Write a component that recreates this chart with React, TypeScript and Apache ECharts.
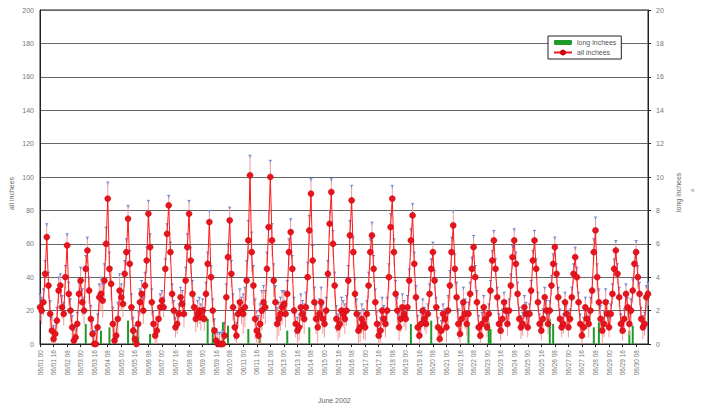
import React, { useEffect, useRef } from "react";
import * as echarts from "echarts";

// 2-hourly readings (hours 00,02,...,22) for each day of June 2002, "all inchees"
const day01 = [22, 20, 25, 42, 64, 35, 18, 8, 3, 6, 14, 32];
const day02 = [35, 22, 18, 40, 59, 30, 20, 10, 2, 4, 12, 30];
const day03 = [38, 25, 20, 45, 56, 32, 15, 6, 0, 0, 10, 28];
const day04 = [30, 26, 38, 60, 87, 45, 36, 12, 2, 5, 15, 32];
const day05 = [28, 24, 42, 55, 75, 48, 22, 8, 3, 0, 12, 25];
const day06 = [30, 20, 35, 50, 78, 58, 25, 12, 5, 8, 15, 22];
const day07 = [26, 22, 45, 66, 83, 55, 30, 20, 10, 12, 18, 28];
const day08 = [24, 18, 38, 58, 78, 50, 30, 22, 15, 18, 20, 16];
const day09 = [20, 15, 30, 48, 73, 40, 20, 8, 2, 0, 0, 0];
const day10 = [0, 5, 28, 52, 74, 42, 22, 10, 5, 18, 25, 20];
const day11 = [18, 22, 38, 62, 101, 55, 35, 15, 8, 5, 12, 20];
const day12 = [25, 22, 45, 70, 100, 62, 38, 25, 12, 15, 18, 22];
const day13 = [24, 18, 30, 55, 67, 45, 20, 12, 8, 10, 22, 18];
const day14 = [15, 22, 40, 68, 90, 50, 25, 15, 10, 18, 25, 15];
const day15 = [12, 20, 42, 72, 91, 60, 35, 15, 10, 12, 20, 18];
const day16 = [15, 20, 38, 65, 86, 55, 30, 18, 8, 10, 15, 12];
const day17 = [10, 18, 35, 55, 65, 45, 25, 12, 5, 8, 20, 15];
const day18 = [12, 20, 40, 70, 87, 55, 30, 20, 10, 15, 22, 18];
const day19 = [15, 22, 38, 62, 77, 48, 28, 10, 5, 12, 20, 15];
const day20 = [12, 18, 30, 45, 55, 38, 22, 10, 3, 8, 18, 15];
const day21 = [10, 20, 35, 55, 71, 45, 28, 12, 6, 15, 25, 18];
const day22 = [12, 18, 30, 45, 58, 40, 25, 10, 5, 12, 22, 15];
const day23 = [10, 18, 32, 50, 62, 45, 28, 12, 8, 15, 25, 20];
const day24 = [12, 20, 35, 52, 62, 48, 30, 15, 10, 12, 22, 18];
const day25 = [10, 18, 32, 50, 62, 45, 25, 12, 8, 15, 28, 20];
const day26 = [12, 20, 35, 48, 58, 42, 28, 15, 10, 12, 25, 18];
const day27 = [10, 15, 28, 42, 52, 40, 25, 12, 5, 10, 22, 15];
const day28 = [12, 20, 32, 55, 68, 40, 25, 15, 8, 12, 25, 18];
const day29 = [10, 18, 30, 45, 56, 42, 28, 12, 8, 15, 30, 22];
const day30 = [12, 20, 32, 48, 55, 40, 30, 15, 10, 12, 28, 30];

const allDays = [
  day01, day02, day03, day04, day05, day06, day07, day08, day09, day10,
  day11, day12, day13, day14, day15, day16, day17, day18, day19, day20,
  day21, day22, day23, day24, day25, day26, day27, day28, day29, day30,
];

// error-bar half height per day
const dayError = [8, 7, 8, 10, 8, 8, 6, 8, 7, 8, 12, 10, 8, 9, 8, 9, 8, 8, 7, 6, 9, 7, 6, 7, 6, 6, 6, 8, 6, 7];

// "long inchees": reading index (2-hour steps from 06/01 00) and value (right axis)
const longIndex = [27, 36, 41, 52, 55, 58, 65, 99, 102, 108, 111, 123, 130, 146, 159, 219, 231, 253, 265, 266, 301, 303, 327, 330, 348, 350];
const longValue = [1.2, 0.8, 1.0, 1.4, 1.0, 1.2, 0.6, 1.5, 1.0, 1.3, 1.1, 0.9, 0.7, 0.8, 1.0, 1.2, 1.4, 1.1, 1.3, 0.9, 1.5, 1.2, 1.0, 1.3, 0.8, 1.1];

const hours = ["00", "02", "04", "06", "08", "10", "12", "14", "16", "18", "20", "22"];

export default function App() {
  const ref = useRef<HTMLDivElement>(null);
  useEffect(() => {
    if (!ref.current) return;
    const chart = echarts.init(ref.current, undefined, { renderer: "svg" });

    const categories: string[] = [];
    const allValues: number[] = [];
    const errData: number[][] = [];
    allDays.forEach((d, di) => {
      const dd = String(di + 1).padStart(2, "0");
      d.forEach((v, hi) => {
        const idx = categories.length;
        categories.push(`06/${dd} ${hours[hi]}`);
        allValues.push(v);
        errData.push([idx, Math.max(0, v - dayError[di]), v + dayError[di]]);
      });
    });
    const longData = longIndex.map((i, k) => [i, longValue[k]]);

    const font = "Liberation Sans, Arial, sans-serif";

    chart.setOption({
      animation: false,
      backgroundColor: "#fff",
      textStyle: { fontFamily: font },
      grid: { left: 40, right: 56, top: 10, bottom: 66, show: true, borderColor: "#222", borderWidth: 1 },
      legend: {
        orient: "vertical",
        left: 548,
        top: 36,
        width: 82,
        padding: [3, 5, 3, 5],
        itemGap: 3,
        itemWidth: 18,
        itemHeight: 5,
        borderColor: "#222",
        borderWidth: 1,
        backgroundColor: "#fff",
        textStyle: { fontSize: 7, color: "#555", fontFamily: font },
        data: ["long inchees", "all inchees"],
      },
      xAxis: {
        type: "category",
        data: categories,
        boundaryGap: false,
        axisLine: { lineStyle: { color: "#222", width: 1 } },
        axisTick: { show: true, interval: 7, length: 3, lineStyle: { color: "#222" } },
        axisLabel: { interval: 7, rotate: 90, fontSize: 6.5, color: "#777", margin: 6, fontFamily: font },
        splitLine: { show: false },
      },
      yAxis: [
        {
          type: "value",
          min: 0,
          max: 200,
          interval: 20,
          axisLine: { show: true, lineStyle: { color: "#222" } },
          axisTick: { show: false },
          axisLabel: { fontSize: 7, color: "#777", margin: 6, fontFamily: font },
          splitLine: { show: true, lineStyle: { color: "#666", width: 1.2 } },
        },
        {
          type: "value",
          min: 0,
          max: 20,
          interval: 2,
          position: "right",
          axisLine: { show: true, lineStyle: { color: "#222" } },
          axisTick: { show: true, length: 3, lineStyle: { color: "#222" } },
          axisLabel: { fontSize: 7, color: "#777", margin: 8, fontFamily: font },
          splitLine: { show: false },
        },
      ],
      series: [
        {
          name: "long inchees",
          type: "bar",
          yAxisIndex: 1,
          data: longData,
          barWidth: 2,
          itemStyle: { color: "#1f9a2a" },
          z: 1,
        },
        {
          name: "errors",
          type: "custom",
          data: errData,
          z: 2,
          renderItem: (params: any, api: any) => {
            const x = api.value(0);
            const lo = api.coord([x, api.value(1)]);
            const hi = api.coord([x, api.value(2)]);
            return {
              type: "group",
              children: [
                { type: "line", shape: { x1: lo[0], y1: lo[1], x2: hi[0], y2: hi[1] }, style: { stroke: "#f29a9a", lineWidth: 1 } },
                { type: "line", shape: { x1: hi[0] - 1.5, y1: hi[1], x2: hi[0] + 1.5, y2: hi[1] }, style: { stroke: "#6a86d8", lineWidth: 1 } },
                { type: "line", shape: { x1: hi[0], y1: hi[1], x2: hi[0], y2: hi[1] + 2.5 }, style: { stroke: "#6a86d8", lineWidth: 1 } },
              ],
            };
          },
        },
        {
          name: "all inchees",
          type: "line",
          data: allValues,
          symbol: "circle",
          symbolSize: 6,
          showSymbol: true,
          showAllSymbol: true,
          lineStyle: { color: "#ff1a1a", width: 1 },
          itemStyle: { color: "#e8141c", borderColor: "#c00010", borderWidth: 0.5 },
          z: 3,
        },
      ],
      graphic: [
        { type: "text", x: 318, y: 397, style: { text: "June 2002", fontSize: 7, fill: "#666", fontFamily: font } },
        { type: "text", x: 8, y: 210, rotation: Math.PI / 2, style: { text: "all inchees", fontSize: 7, fill: "#666", fontFamily: font } },
        { type: "text", x: 675, y: 212, rotation: Math.PI / 2, style: { text: "long inchees", fontSize: 7, fill: "#666", fontFamily: font } },
        { type: "text", x: 689, y: 192, rotation: Math.PI / 2, style: { text: "a", fontSize: 6, fill: "#888", fontFamily: font } },
      ],
    });
    return () => chart.dispose();
  }, []);
  return <div ref={ref} style={{ position: "absolute", left: 0, top: 0, width: 704, height: 410 }} />;
}
